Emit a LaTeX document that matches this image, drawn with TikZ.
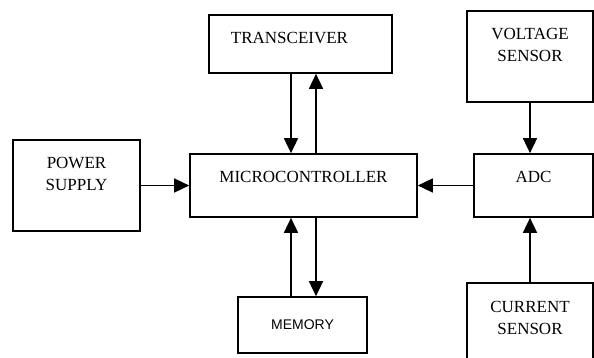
\documentclass[tikz,border=0pt]{standalone}
\usepackage{fontspec}
\setmainfont{Liberation Serif}
\newfontfamily\memfont{Liberation Sans}
\usetikzlibrary{arrows.meta}

\begin{document}
\begin{tikzpicture}[x=1pt, y=-1pt, line width=1.7pt, >={Triangle[width=14pt, length=15pt]}]
		
		% Define styles
		\tikzstyle{block} = [rectangle, draw, align=center, inner ysep=0pt, text height=29pt, font=\fontsize{17}{22}\selectfont]
		\tikzstyle{tall} = [block, minimum width=126pt, text height=51pt, text depth=40pt]
		\tikzstyle{flat} = [block, text depth=34pt]
		
		\useasboundingbox (0,0) rectangle (594,358);
		\clip (0,0) rectangle (594,358);
		
		% Nodes
		\node[flat, minimum width=227pt] (micro) at (303.5,185.5) {MICROCONTROLLER};
		\node[block, minimum width=183pt, text depth=29pt] (trans) at (300.5,44) {TRANSCEIVER\hspace*{22pt}};
		\node[tall, minimum width=127pt] (power) at (76.5,185.5) {POWER\\SUPPLY};
		\node[tall] (voltage) at (530,56.5) {VOLTAGE\\SENSOR};
		\node[flat, minimum width=119pt] (adc) at (533.5,185.5) {ADC};
		\node[tall] (current) at (530,328.5) {CURRENT\\SENSOR};
		\node[block, minimum width=129pt, text height=32pt, text depth=24pt, font=\memfont\fontsize{14}{16}\selectfont] (memory) at (302.5,325) {MEMORY};
		
		% Arrows
		\draw[->] ([xshift=-12.5pt]micro.north |- trans.south) -- ([xshift=-12.5pt]micro.north);
		\draw[->] ([xshift=12.5pt]micro.north) -- ([xshift=12.5pt]micro.north |- trans.south);
		\draw[->] ([xshift=-12.5pt]micro.south |- memory.north) -- ([xshift=-12.5pt]micro.south);
		\draw[->] ([xshift=12.5pt]micro.south) -- ([xshift=12.5pt]micro.south |- memory.north);
		\draw[->] (power.east) -- (micro.west);
		\draw[->] (adc.west) -- (micro.east);
		\draw[->] (voltage.south) -- (voltage.south |- adc.north);
		\draw[->] (current.north) -- (current.north |- adc.south);
		
\end{tikzpicture}
\end{document}
